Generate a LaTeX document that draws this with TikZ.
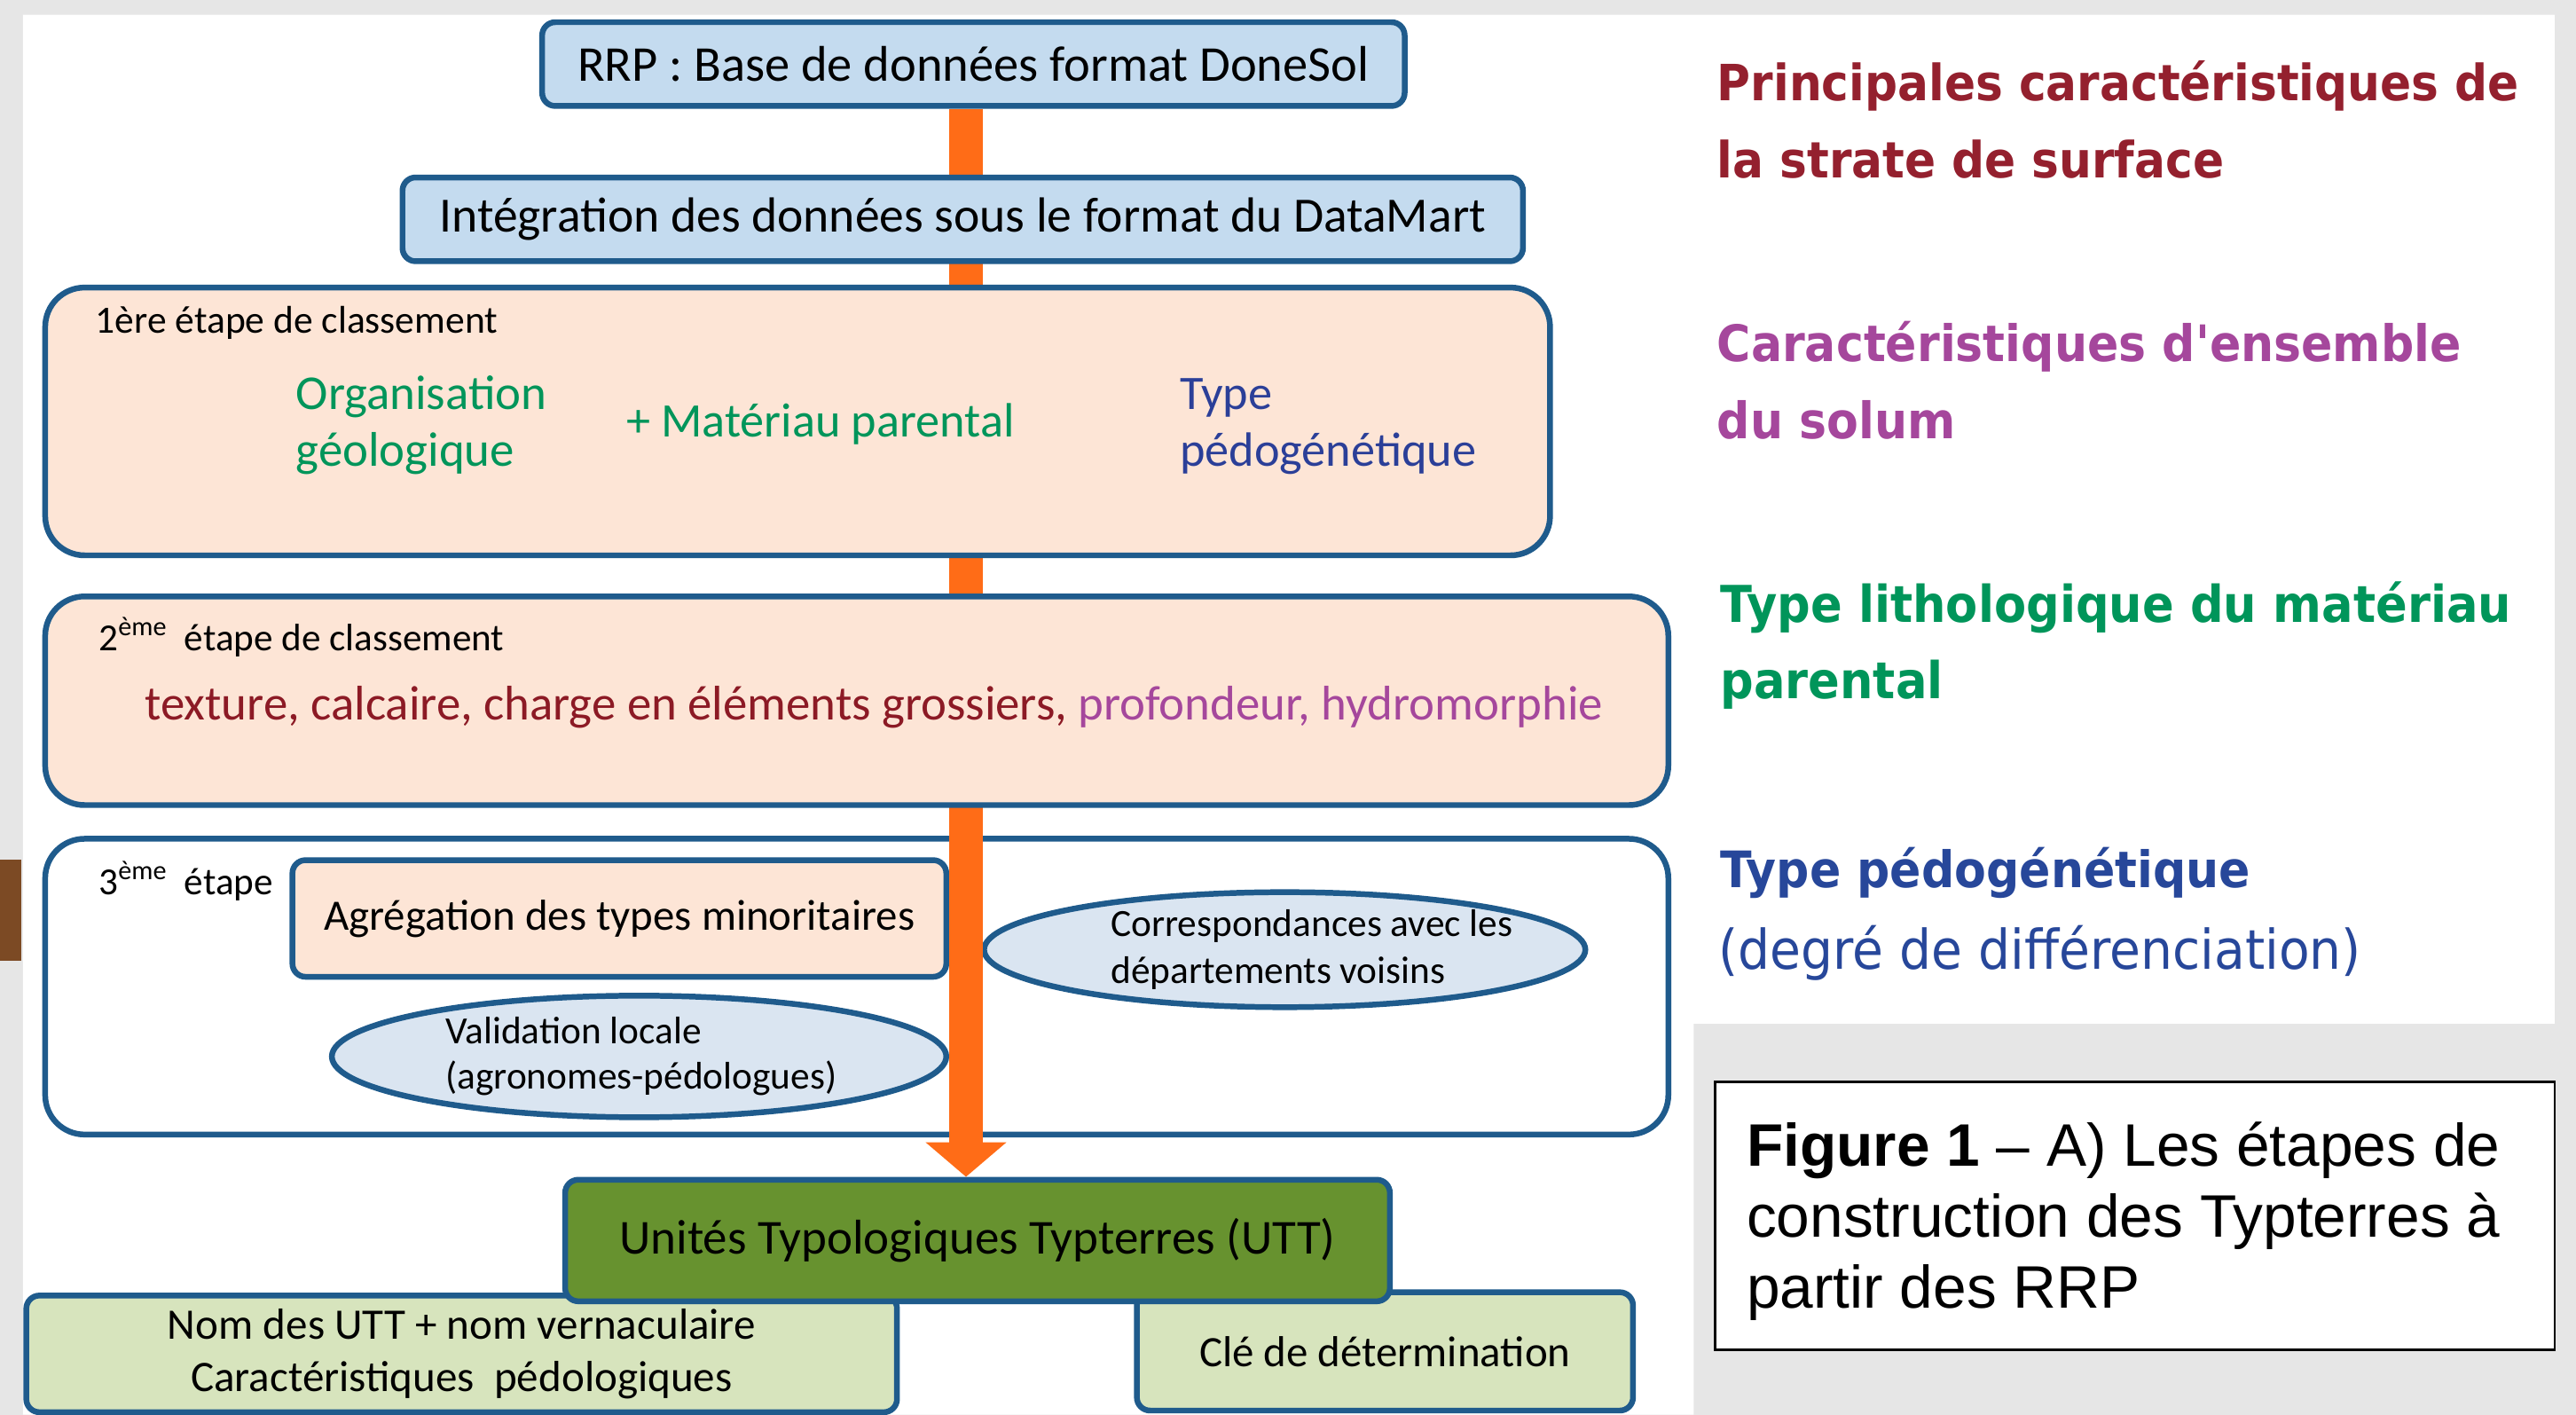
\documentclass[tikz,border=0pt]{standalone}
\usepackage{fontspec}
\setmainfont{Carlito}
\newfontfamily\verd{DejaVu Sans}[FakeStretch=0.92]
\newfontfamily\arialf{Liberation Sans}
\usetikzlibrary{arrows.meta,shapes.geometric}
\definecolor{bordblue}{HTML}{1F5B8C}
\definecolor{lblue}{HTML}{C4DBEF}
\definecolor{peach}{HTML}{FDE5D6}
\definecolor{ellblue}{HTML}{DAE5F1}
\definecolor{orng}{HTML}{FF6C17}
\definecolor{olive}{HTML}{67922F}
\definecolor{lgreen}{HTML}{D7E4BD}
\definecolor{dred}{HTML}{8C1A25}
\definecolor{tred}{HTML}{94202E}
\definecolor{purp}{HTML}{A5479C}
\definecolor{grn}{HTML}{00955A}
\definecolor{navy}{HTML}{2B3F98}
\definecolor{tblue}{HTML}{27479A}
\definecolor{bgg}{HTML}{E6E6E6}
\definecolor{brn}{HTML}{7C4A24}
\tikzset{
  box/.style={draw=bordblue, line width=3.5pt, rounded corners=8pt, inner sep=0pt},
  bluebox/.style={box, fill=lblue},
  greenbox/.style={box, fill=lgreen},
  stagebox/.style={draw=bordblue, line width=3.5pt, rounded corners=24pt, inner sep=0pt},
  ell/.style={ellipse, draw=bordblue, line width=3.5pt, fill=ellblue, inner sep=0pt},
  lbl/.style={anchor=base west, inner sep=0pt},
  orangearrow/.style={draw=orng, line width=21pt, -{Triangle[width=48pt,length=21pt]}},
}
\newcommand{\fs}[1]{\fontsize{#1}{#1}\selectfont}
\begin{document}
\begin{tikzpicture}[x=1pt,y=-1pt]
\useasboundingbox (0,0) rectangle (1568,861);
% background
\fill[bgg] (0,0) rectangle (1568,861);
\fill[white] (14,9) -| (1555,623) -| (1031,861) -- (14,861) -- cycle;
\fill[brn] (0,523) rectangle (13,585);

% bottom boxes
\node[greenbox, minimum width=530pt, minimum height=71pt, align=center, font=\fontsize{26.5}{32.3}\selectfont]
  (nom) at (281,824) {Nom des UTT + nom vernaculaire\\Caractéristiques\ \ pédologiques};
\node[greenbox, minimum width=302pt, minimum height=72pt, font=\fs{26.4}] (cle) at (843,822.5) {Clé de détermination};
\node[box, fill=olive, minimum width=502pt, minimum height=74pt, font=\fs{29.7}] (utt) at (595,755) {Unités Typologiques Typterres (UTT)};

% top box
\node[bluebox, minimum width=525pt, minimum height=51pt, font=\fs{30.5}] (rrp) at (592.5,39) {RRP : Base de données format DoneSol};

% stage 3
\node[stagebox, minimum width=988pt, minimum height=180pt] (s3) at (521.5,600.5) {};
\node[lbl, font=\fs{23.3}] (t3) at (60,544.5) {3\textsuperscript{ème}\ \ étape};
\node[box, fill=peach, minimum width=398pt, minimum height=71pt, font=\fs{26.4}] (agr) at (377,559) {Agrégation des types minoritaires};
\node[ell, minimum width=366pt, minimum height=70pt] (corr) at (782,578) {};
\node[lbl, font=\fs{23.4}] (corr1) at (676,570) {Correspondances avec les};
\node[lbl, font=\fs{23.4}] (corr2) at (676,598.5) {départements voisins};
\node[ell, minimum width=374pt, minimum height=74pt] (valid) at (389,643) {};
\node[lbl, font=\fs{23.4}] (val1) at (271,635) {Validation locale};
\node[lbl, font=\fs{23.4}] (val2) at (271,663) {(agronomes-pédologues)};

% orange flow arrow
\coordinate (ox) at (588,0);
\draw[orangearrow] (rrp.south -| ox) -- (utt.north -| ox);

% second top box
\node[bluebox, minimum width=682pt, minimum height=51pt, font=\fs{30}] (integ) at (586,133.5) {Intégration des données sous le format du DataMart};

% stage 1
\node[stagebox, fill=peach, minimum width=916pt, minimum height=163pt] (s1) at (485.5,256.5) {};
\node[lbl, font=\fs{23.5}] (t1) at (58,202.5) {1ère étape de classement};
\node[lbl, font=\fs{29.6}, text=grn] (org1) at (180,249) {Organisation};
\node[lbl, font=\fs{29.6}, text=grn] (org2) at (180,284) {géologique};
\node[lbl, font=\fs{29.3}, text=grn] (mat) at (381,266) {+ Matériau parental};
\node[lbl, font=\fs{29.3}, text=navy] (typ1) at (718,249) {Type};
\node[lbl, font=\fs{29.3}, text=navy] (typ2) at (718,284) {pédogénétique};

% stage 2
\node[stagebox, fill=peach, minimum width=988pt, minimum height=127pt] (s2) at (521.5,426.5) {};
\node[lbl, font=\fs{23.3}] (t2) at (60,396) {2\textsuperscript{ème}\ \ étape de classement};
\node[lbl, font=\fs{29.6}] (crit) at (88,438) {\textcolor{dred}{texture, calcaire, charge en éléments grossiers,} \textcolor{purp}{profondeur, hydromorphie}};

% right-hand legend
\node[lbl, font=\verd\bfseries\fs{30.4}, text=tred] (r1a) at (1045,61.5) {Principales caractéristiques de};
\node[lbl, font=\verd\bfseries\fs{30.4}, text=tred] (r1b) at (1045,108) {la strate de surface};
\node[lbl, font=\verd\bfseries\fs{30.6}, text=purp] (r2a) at (1045,220) {Caractéristiques d'ensemble};
\node[lbl, font=\verd\bfseries\fs{30.6}, text=purp] (r2b) at (1045,267) {du solum};
\node[lbl, font=\verd\bfseries\fs{30.9}, text=grn] (r3a) at (1047,379) {Type lithologique du matériau};
\node[lbl, font=\verd\bfseries\fs{30.9}, text=grn] (r3b) at (1047,425) {parental};
\node[lbl, font=\verd\bfseries\fs{30.6}, text=tblue] (r4a) at (1047,540) {Type pédogénétique};
\node[lbl, font=\verd\fs{33.3}, text=tblue] (r4b) at (1046,590) {(degré de différenciation)};

% caption
\node[draw=black, line width=1.5pt, fill=white, minimum width=511pt, minimum height=163pt, inner sep=0pt] (cap) at (1299.5,740) {};
\node[lbl, font=\arialf\fs{36.5}] (cap1) at (1063,710) {\textbf{Figure 1} – A) Les étapes de};
\node[lbl, font=\arialf\fs{36.5}] (cap2) at (1063,753) {construction des Typterres à};
\node[lbl, font=\arialf\fs{36.5}] (cap3) at (1063,796) {partir des RRP};
\end{tikzpicture}
\end{document}
